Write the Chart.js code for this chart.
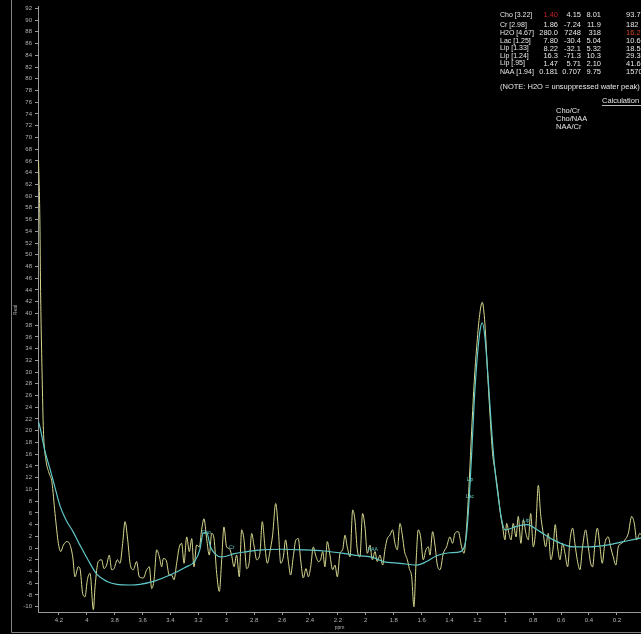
<!DOCTYPE html>
<html>
<head>
<meta charset="utf-8">
<title>Spectrum</title>
<script src="https://cdn.jsdelivr.net/npm/chart.js@4/dist/chart.umd.min.js"></script>
<style>
  html, body { margin: 0; padding: 0; background: #000; }
  canvas { display: block; }
</style>
</head>
<body>
<canvas id="spectrum" width="641" height="634"></canvas>
<script>
// measured spectrum (yellow), ppm / real
const specPpm = [
  4.346, 4.336, 4.332, 4.321, 4.311, 4.293, 4.271, 4.250, 4.228, 4.204,
  4.187, 4.168, 4.144, 4.125, 4.101, 4.085, 4.061, 4.049, 4.030, 4.013,
  3.996, 3.977, 3.953, 3.941, 3.918, 3.894, 3.877, 3.858, 3.839, 3.822,
  3.805, 3.781, 3.762, 3.743, 3.726, 3.707, 3.690, 3.667, 3.643, 3.624,
  3.595, 3.571, 3.552, 3.535, 3.518, 3.499, 3.480, 3.463, 3.452, 3.432,
  3.409, 3.392, 3.375, 3.356, 3.337, 3.320, 3.303, 3.284, 3.265, 3.248,
  3.232, 3.213, 3.193, 3.177, 3.160, 3.141, 3.122, 3.105, 3.088, 3.069,
  3.050, 3.033, 3.017, 2.998, 2.978, 2.962, 2.945, 2.926, 2.907, 2.890,
  2.873, 2.854, 2.835, 2.818, 2.802, 2.782, 2.759, 2.742, 2.723, 2.706,
  2.687, 2.668, 2.646, 2.627, 2.610, 2.591, 2.575, 2.555, 2.539, 2.520,
  2.501, 2.484, 2.467, 2.448, 2.429, 2.412, 2.395, 2.376, 2.360, 2.340,
  2.324, 2.309, 2.293, 2.276, 2.257, 2.238, 2.221, 2.204, 2.185, 2.166,
  2.149, 2.133, 2.113, 2.094, 2.078, 2.061, 2.042, 2.023, 2.006, 1.989,
  1.970, 1.953, 1.934, 1.918, 1.898, 1.879, 1.863, 1.846, 1.827, 1.808,
  1.791, 1.774, 1.755, 1.738, 1.722, 1.702, 1.688, 1.671, 1.655, 1.640,
  1.624, 1.607, 1.588, 1.569, 1.552, 1.540, 1.521, 1.504, 1.487, 1.468,
  1.444, 1.421, 1.397, 1.378, 1.361, 1.337, 1.313, 1.296, 1.277, 1.258,
  1.241, 1.222, 1.205, 1.186, 1.165, 1.146, 1.129, 1.110, 1.091, 1.074,
  1.057, 1.038, 1.019, 1.002, 0.990, 0.974, 0.959, 0.943, 0.923, 0.907,
  0.888, 0.871, 0.852, 0.835, 0.818, 0.799, 0.782, 0.763, 0.747, 0.728,
  0.711, 0.692, 0.673, 0.656, 0.642, 0.625, 0.608, 0.589, 0.572, 0.553,
  0.536, 0.517, 0.501, 0.484, 0.465, 0.446, 0.424, 0.405, 0.388, 0.374,
  0.357, 0.340, 0.321, 0.305, 0.286, 0.262, 0.245, 0.226, 0.207, 0.190,
  0.166, 0.142, 0.118, 0.094, 0.075, 0.058, 0.035, 0.020
];
const specReal = [
  66, 55, 45, 30, 20, 15, 12.8, 11.2, 5.9, 0.8,
  -0.6, 0.5, 1.1, 0.8, -1.5, -4.9, -3.2, -3.5, -7.7, -8.3,
  -5.4, -4.3, -10.5, -6.6, -2.3, -2.0, -3.5, -2.9, -1.2, -3.7,
  -3.5, -2.0, -2.6, 0.8, 4.5, 1.4, -2.6, -3.7, -2.3, -4.9,
  -5.1, -3.7, -3.2, -6.9, -5.4, -0.3, -1.5, -3.2, -1.8, -2.0,
  -4.6, -4.6, -5.4, -2.6, 0.2, 0.8, -2.6, 1.9, -0.6, 1.6,
  -3.2, 0.5, 0.2, 3.1, 5.0, 1.6, -1.2, 2.5, 1.6, -4.3,
  -7.4, -2.0, 3.6, 0.2, -0.1, -1.2, -3.2, -1.2, -4.9, 3.1,
  1.4, -3.5, -2.3, 2.5, 0.5, -2.0, -0.9, 4.5, 0.2, -2.6,
  -0.6, 2.2, 7.6, 3.1, -2.6, -1.5, 1.4, -2.3, -4.6, -1.5,
  1.4, 1.6, -2.0, -5.1, -3.5, -4.9, -3.2, 0.2, -1.2, -2.3,
  -2.0, -0.6, -3.2, 1.1, -1.2, -3.7, -2.9, -4.9, -0.9, -0.3,
  2.2, 0.2, -1.5, 6.5, 4.8, -0.3, -1.5, 5.9, 3.6, -0.9,
  0.5, -2.0, -0.6, -2.3, -1.2, -2.9, -0.3, 1.6, 2.2, 3.1,
  0.8, -0.3, 4.2, 2.2, -0.6, -2.0, -3.5, -4.9, -10.0, -2.6,
  3.1, 1.9, -2.0, -0.3, 0.2, -1.2, 2.8, 0.5, -2.9, -3.7,
  -0.9, 0.2, 1.9, 0.8, 2.5, 2.8, 0.2, -0.9, 3.7, 11.6,
  20.1, 28.6, 34.3, 39.3, 41.9, 38.2, 30.8, 22.9, 16.1, 13.3,
  10.4, 6.5, 3.6, 1.4, 4.2, 2.5, 1.4, 4.2, 1.9, 5.4,
  0.8, 4.8, 2.5, 1.4, 5.9, 0.2, 3.1, 10.7, 5.9, 2.5,
  0.2, 2.5, -2.0, 0.2, 4.0, 0.2, -2.0, 0.8, -0.9, -3.2,
  1.4, 3.4, 0.8, -2.0, -3.7, 0.2, 3.1, 0.2, -2.6, -3.2,
  0.8, 3.4, 0.2, -2.6, 0.8, 1.9, 0.2, -1.5, -2.9, 0.2,
  0.8, 1.4, 2.5, 5.4, 4.2, 1.4, 2.5, 2.0
];

// fitted curve (cyan)
const fitPpm = [
  4.346, 4.336, 4.300, 4.264, 4.228, 4.192, 4.149, 4.099, 4.049, 3.992,
  3.927, 3.855, 3.784, 3.690, 3.619, 3.511, 3.404, 3.296, 3.225, 3.190,
  3.165, 3.140, 3.115, 3.080, 3.040, 3.000, 2.950, 2.850, 2.750, 2.600,
  2.450, 2.300, 2.160, 2.050, 1.950, 1.874, 1.755, 1.636, 1.564, 1.492,
  1.400, 1.320, 1.290, 1.277, 1.258, 1.241, 1.222, 1.201, 1.181, 1.165,
  1.146, 1.122, 1.098, 1.074, 1.050, 1.026, 1.002, 0.919, 0.847, 0.751,
  0.656, 0.513, 0.393, 0.274, 0.154, 0.035, 0.020
];
const fitReal = [
  21.5, 20.6, 16.5, 13.5, 10.3, 7.2, 4.8, 2.8, 0.5, -2.0,
  -4.5, -5.7, -6.2, -6.3, -6.2, -5.6, -4.6, -3.3, -2.2, -0.3,
  2.6, 2.6, 0.3, -1.0, -1.5, -1.4, -1.0, -0.6, -0.3, -0.2,
  -0.3, -0.5, -0.9, -1.3, -1.6, -2.3, -2.6, -2.9, -2.3, -1.3,
  -0.8, -0.6, 0.5, 2.5, 8.7, 16.1, 25.2, 32.5, 37.1, 38.4,
  36.0, 28.6, 20.1, 13.3, 8.7, 4.8, 3.1, 3.7, 4.0, 2.8,
  1.4, 0.2, 0.2, 0.5, 1.1, 1.7, 1.8
];

const xTicks = [4.2, 4, 3.8, 3.6, 3.4, 3.2, 3, 2.8, 2.6, 2.4, 2.2, 2, 1.8, 1.6, 1.4, 1.2, 1, 0.8, 0.6, 0.4, 0.2];
const yTicks = [
  -10, -8, -6, -4, -2, 0, 2, 4, 6, 8, 10, 12, 14, 16, 18, 20, 22, 24, 26, 28,
  30, 32, 34, 36, 38, 40, 42, 44, 46, 48, 50, 52, 54, 56, 58, 60, 62, 64, 66, 68,
  70, 72, 74, 76, 78, 80, 82, 84, 86, 88, 90, 92
];

const peakNames = ["Cho", "Cr", "NAA", "Lip", "Lac", "Lip"];
const peakNamePpm = [3.145, 2.96, 1.95, 1.253, 1.253, 0.85];
const peakNameReal = [2.7, 0, -0.3, 11.6, 8.8, 4.6];

const tableRows = [
  ["Cho [3.22]", "1.40", "4.15", "8.01", "93.7"],
  ["Cr [2.98]", "1.86", "-7.24", "11.9", "182"],
  ["H2O [4.67]", "280.0", "7248", "318", "16.2"],
  ["Lac [1.25]", "7.80", "-30.4", "5.04", "10.6"],
  ["Lip [1.33]", "8.22", "-32.1", "5.32", "18.5"],
  ["Lip [1.24]", "16.3", "-71.3", "10.3", "29.3"],
  ["Lip [.95]", "1.47", "5.71", "2.10", "41.6"],
  ["NAA [1.94]", "0.181", "0.707", "9.75", "157000"]
];
const ratioNames = ["Cho/Cr", "Cho/NAA", "NAA/Cr"];

const axisGrey = "#9a9a9a";
const textGrey = "#b4b4b4";
const tinyFont = "'Liberation Sans Narrow', 'Liberation Sans', sans-serif";

const overlay = {
  id: "overlay",
  afterDraw(chart) {
    const ctx = chart.ctx;
    const xs = chart.scales.x;
    const ys = chart.scales.y;
    ctx.save();

    // outer frame
    ctx.strokeStyle = "#808080";
    ctx.lineWidth = 1;
    ctx.beginPath();
    ctx.moveTo(11.5, 0);
    ctx.lineTo(11.5, 632.5);
    ctx.lineTo(641, 632.5);
    ctx.stroke();

    // y title
    ctx.fillStyle = textGrey;
    ctx.font = "5px " + tinyFont;
    ctx.textAlign = "center";
    ctx.textBaseline = "middle";
    ctx.save();
    ctx.translate(16, 310);
    ctx.rotate(-Math.PI / 2);
    ctx.fillText("Real", 0, 0);
    ctx.restore();

    // peak names on the fit
    ctx.fillStyle = "#5fcfcf";
    ctx.font = "5px " + tinyFont;
    peakNames.forEach((name, i) => {
      ctx.fillText(name, xs.getPixelForValue(peakNamePpm[i]), ys.getPixelForValue(peakNameReal[i]));
    });

    // results table
    ctx.textBaseline = "middle";
    const rowY = [15, 25, 33, 41, 48.5, 56, 63.5, 72];
    tableRows.forEach((row, i) => {
      const y = rowY[i];
      ctx.font = "7px " + tinyFont;
      ctx.fillStyle = "#e6e6e6";
      ctx.textAlign = "left";
      ctx.fillText(row[0], 500, y);
      ctx.font = "7.5px " + tinyFont;
      ctx.textAlign = "right";
      ctx.fillStyle = i === 0 ? "#c02020" : "#e6e6e6";
      ctx.fillText(row[1], 558, y);
      ctx.fillStyle = "#e6e6e6";
      ctx.fillText(row[2], 581, y);
      ctx.fillText(row[3], 601, y);
      ctx.textAlign = "left";
      ctx.fillStyle = i === 2 ? "#d04020" : "#e6e6e6";
      ctx.fillText(row[4], 626, y);
    });

    ctx.fillStyle = "#e6e6e6";
    ctx.textAlign = "left";
    ctx.fillText("(NOTE: H2O = unsuppressed water peak)", 500, 87);
    ctx.fillText("Calculation", 602, 101);
    ctx.beginPath();
    ctx.strokeStyle = "#bbbbbb";
    ctx.moveTo(602, 105.5);
    ctx.lineTo(641, 105.5);
    ctx.stroke();
    ratioNames.forEach((name, i) => {
      ctx.fillText(name, 556, 111 + i * 8);
    });

    ctx.restore();
  }
};

const ctx = document.getElementById("spectrum").getContext("2d");

new Chart(ctx, {
  type: "line",
  data: {
    datasets: [
      {
        label: "fit",
        data: fitPpm.map((x, i) => ({ x, y: fitReal[i] })),
        borderColor: "#5fc8c8",
        borderWidth: 1.2,
        pointRadius: 0,
        cubicInterpolationMode: "monotone"
      },
      {
        label: "spectrum",
        data: specPpm.map((x, i) => ({ x, y: specReal[i] })),
        borderColor: "#d8d890",
        borderWidth: 1,
        pointRadius: 0,
        cubicInterpolationMode: "monotone"
      }
    ]
  },
  options: {
    responsive: false,
    animation: false,
    events: [],
    layout: { padding: { top: 5, right: 0, left: 0, bottom: 0 } },
    plugins: {
      legend: { display: false },
      tooltip: { enabled: false }
    },
    scales: {
      x: {
        type: "linear",
        reverse: true,
        min: 0.027,
        max: 4.35,
        afterBuildTicks: (s) => { s.ticks = xTicks.map((v) => ({ value: v })); },
        afterFit: (s) => { s.height = 22; },
        border: { color: axisGrey, width: 1 },
        grid: { drawOnChartArea: false, color: axisGrey, tickLength: 3 },
        ticks: {
          color: textGrey,
          font: { size: 6, family: tinyFont },
          padding: 2,
          maxRotation: 0,
          autoSkip: false,
          callback: (v) => String(Math.round(v * 10) / 10)
        },
        title: {
          display: true,
          text: "ppm",
          color: textGrey,
          font: { size: 5, family: tinyFont },
          padding: { top: 0, bottom: 3 }
        }
      },
      y: {
        min: -10.9,
        max: 92.3,
        afterBuildTicks: (s) => { s.ticks = yTicks.map((v) => ({ value: v })); },
        afterFit: (s) => { s.width = 38; },
        border: { color: axisGrey, width: 1 },
        grid: { drawOnChartArea: false, color: axisGrey, tickLength: 3 },
        ticks: {
          color: textGrey,
          font: { size: 6, family: tinyFont },
          padding: 3,
          autoSkip: false
        }
      }
    }
  },
  plugins: [overlay]
});
</script>
</body>
</html>
